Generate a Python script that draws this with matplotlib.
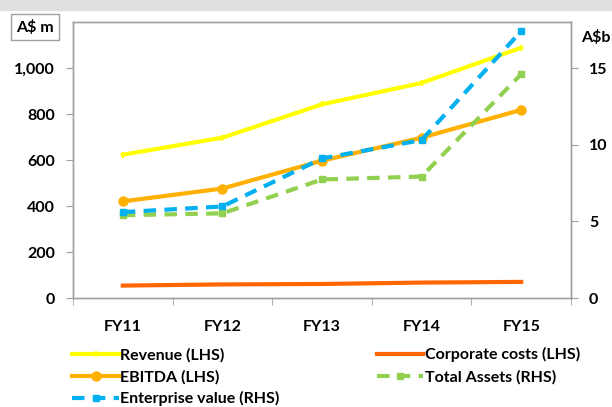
import matplotlib
matplotlib.use('Agg')
import matplotlib.pyplot as plt
from matplotlib.patches import Rectangle
from matplotlib.lines import Line2D

years = ['FY11', 'FY12', 'FY13', 'FY14', 'FY15']
revenue = [623, 697, 842, 935, 1088]
ebitda = [420, 476, 597, 697, 818]
corp_costs = [54, 59, 61, 67, 70]
enterprise_value = [5.6, 5.97, 9.1, 10.3, 17.4]
total_assets = [5.4, 5.52, 7.73, 7.92, 14.6]

plt.rcParams['font.family'] = ['Lato', 'DejaVu Sans']
plt.rcParams['font.weight'] = 'bold'
plt.rcParams['font.size'] = 11.5

fig = plt.figure(figsize=(6.12, 4.07), dpi=100)
fig.patches.append(Rectangle((0, 1 - 10 / 407), 1, 10 / 407, transform=fig.transFigure,
                             color='#e0e0e0', zorder=0))

ax = fig.add_axes([73 / 612, 1 - 298 / 407, 498 / 612, 276 / 407])
ax2 = ax.twinx()

x = range(len(years))
ax.plot(x, revenue, color='#ffff00', lw=3, marker='|', ms=4, mew=1.5, zorder=3)
ax.plot(x, ebitda, color='#ffb000', lw=3, marker='o', ms=6.5, zorder=3)
ax.plot(x, corp_costs, color='#ff6600', lw=3, zorder=3)
ax2.plot(x, total_assets, color='#92d050', lw=3, ls=(0, (3, 2)), marker='s', ms=5, zorder=3)
ax2.plot(x, enterprise_value, color='#00b0f0', lw=3, ls=(0, (3, 2)), marker='s', ms=5, zorder=4)

ax.set_xlim(-0.5, 4.5)
ax.set_ylim(0, 1200)
ax2.set_ylim(0, 18)
ax.set_yticks([0, 200, 400, 600, 800, 1000])
ax.set_yticklabels(['0', '200', '400', '600', '800', '1,000'])
ax2.set_yticks([0, 5, 10, 15])
ax.set_xticks(list(x))
ax.set_xticklabels(years)
ax.set_xticks([i - 0.5 for i in range(len(years) + 1)], minor=True)
ax.tick_params(axis='x', which='major', length=0, pad=16)
ax.tick_params(axis='x', which='minor', length=5, color='#a0a0a0')
ax.tick_params(axis='y', length=5, color='#a0a0a0', pad=8)
ax2.tick_params(axis='y', length=5, color='#a0a0a0', pad=8)
for a in (ax, ax2):
    for s in a.spines.values():
        s.set_color('#a0a0a0')
        s.set_linewidth(1)

fig.text(35 / 612, 1 - 27 / 407, 'A$ m', ha='center', va='center',
         bbox=dict(boxstyle='square,pad=0.35', fc='white', ec='#a0a0a0', lw=1))
fig.text(596 / 612, 1 - 38 / 407, 'A$b', ha='center', va='center')

handles = [
    Line2D([], [], color='#ffff00', lw=3, marker='|', ms=4, mew=1.5),
    Line2D([], [], color='#ffb000', lw=3, marker='o', ms=6.5),
    Line2D([], [], color='#00b0f0', lw=3, ls=(0, (3, 2)), marker='s', ms=5),
    Line2D([], [], color='#ff6600', lw=3),
    Line2D([], [], color='#92d050', lw=3, ls=(0, (3, 2)), marker='s', ms=5),
]
labels = ['Revenue (LHS)', 'EBITDA (LHS)', 'Enterprise value (RHS)',
          'Corporate costs (LHS)', 'Total Assets (RHS)']
fig.legend(handles, labels, ncol=2, frameon=False, loc='upper left',
           bbox_to_anchor=(66 / 612, 1 - 341 / 407), handlelength=2.9, handletextpad=0.1,
           columnspacing=6.1, labelspacing=0.45, borderaxespad=0)

fig.savefig('out.png', dpi=100)
